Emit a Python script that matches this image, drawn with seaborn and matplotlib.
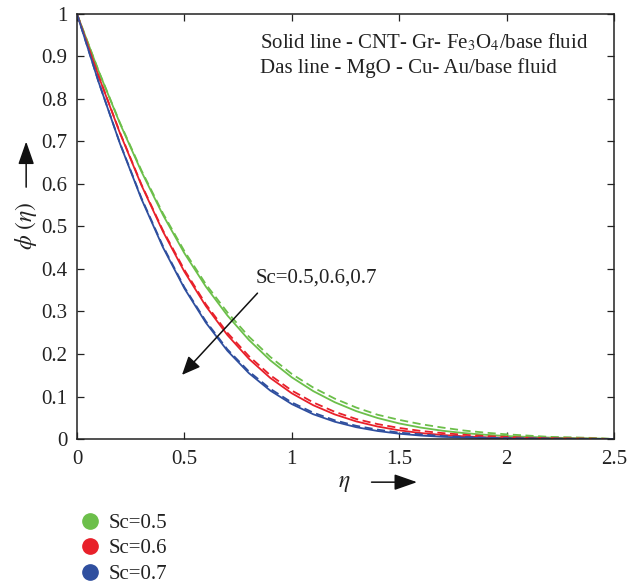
import matplotlib
matplotlib.use("Agg")
import matplotlib.pyplot as plt
import matplotlib.patches as mpatches
import seaborn as sns
import pandas as pd
from matplotlib.lines import Line2D

eta = [0.0, 0.1, 0.2, 0.3, 0.4, 0.5, 0.6, 0.7, 0.8, 0.9, 1.0, 1.1, 1.2,
       1.3, 1.4, 1.5, 1.6, 1.7, 1.8, 1.9, 2.0, 2.1, 2.2, 2.3, 2.4, 2.5]

# Solid line - CNT-Gr-Fe3O4/base fluid
sc05_solid = [1.0, 0.8663, 0.7423, 0.6291, 0.5273, 0.4371, 0.3584, 0.2907, 0.2332,
              0.1850, 0.1451, 0.1126, 0.0865, 0.0656, 0.0493, 0.0366, 0.0269, 0.0195,
              0.0140, 0.0100, 0.0070, 0.0049, 0.0034, 0.0023, 0.0015, 0.0]
sc06_solid = [1.0, 0.8544, 0.7195, 0.5971, 0.4883, 0.3936, 0.3126, 0.2447, 0.1888,
              0.1435, 0.1075, 0.0794, 0.0578, 0.0414, 0.0293, 0.0204, 0.0140, 0.0095,
              0.0063, 0.0041, 0.0027, 0.0017, 0.0011, 0.0007, 0.0004, 0.0]
sc07_solid = [1.0, 0.8407, 0.6949, 0.5647, 0.4511, 0.3543, 0.2736, 0.2077, 0.1550,
              0.1138, 0.0821, 0.0582, 0.0406, 0.0278, 0.0188, 0.0124, 0.0081, 0.0052,
              0.0033, 0.0020, 0.0012, 0.0007, 0.0004, 0.0002, 0.0001, 0.0]
# Dashed line - MgO-Cu-Au/base fluid
sc05_dash = [1.0, 0.867, 0.744, 0.632, 0.531, 0.442, 0.364, 0.298, 0.241, 0.193,
             0.153, 0.121, 0.095, 0.074, 0.057, 0.045, 0.035, 0.027, 0.020, 0.015,
             0.011, 0.008, 0.005, 0.004, 0.0025, 0.0]
sc06_dash = [1.0, 0.855, 0.721, 0.599, 0.491, 0.398, 0.317, 0.250, 0.195, 0.150,
             0.114, 0.086, 0.064, 0.047, 0.035, 0.026, 0.019, 0.014, 0.010, 0.007,
             0.005, 0.003, 0.002, 0.0015, 0.001, 0.0]
sc07_dash = [1.0, 0.841, 0.696, 0.567, 0.454, 0.357, 0.277, 0.211, 0.159, 0.118,
             0.086, 0.062, 0.044, 0.031, 0.022, 0.015, 0.011, 0.007, 0.005, 0.003,
             0.002, 0.0015, 0.001, 0.0005, 0.0003, 0.0]

sc_labels = ["Sc=0.5", "Sc=0.6", "Sc=0.7"]
colors = ["#6cbf4a", "#e8202a", "#2f4f9f"]
xticks = [0, 0.5, 1, 1.5, 2, 2.5]
xticklabels = ["0", "0.5", "1", "1.5", "2", "2.5"]
yticks = [0, 0.1, 0.2, 0.3, 0.4, 0.5, 0.6, 0.7, 0.8, 0.9, 1.0]
yticklabels = ["0", "0.1", "0.2", "0.3", "0.4", "0.5", "0.6", "0.7", "0.8", "0.9", "1"]

rows = []
for lab, s, d in zip(sc_labels, [sc05_solid, sc06_solid, sc07_solid],
                     [sc05_dash, sc06_dash, sc07_dash]):
    for e, v in zip(eta, s):
        rows.append({"eta": e, "phi": v, "Sc": lab, "kind": "solid"})
    for e, v in zip(eta, d):
        rows.append({"eta": e, "phi": v, "Sc": lab, "kind": "dash"})
df = pd.DataFrame(rows)

sns.set_style("ticks")
plt.rcParams["font.family"] = ["Liberation Serif", "DejaVu Serif"]
plt.rcParams["mathtext.fontset"] = "stix"

TXT = "#222222"
FS = 15

fig = plt.figure(figsize=(6.38, 5.88), dpi=100)
ax = fig.add_axes([0.1207, 0.2534, 0.8417, 0.7228])

pal = dict(zip(sc_labels, colors))
sns.lineplot(data=df[df.kind == "solid"], x="eta", y="phi", hue="Sc", palette=pal,
             ax=ax, legend=False, linewidth=1.3, estimator=None, sort=False)
sns.lineplot(data=df[df.kind == "dash"], x="eta", y="phi", hue="Sc", palette=pal,
             ax=ax, legend=False, linewidth=1.3, estimator=None, sort=False)
for ln in ax.lines[3:]:
    ln.set_dashes([4.5, 2.5])

ax.set_xlim(0, 2.5)
ax.set_ylim(0, 1)
ax.set_xticks(xticks)
ax.set_xticklabels(xticklabels)
ax.set_yticks(yticks)
ax.set_yticklabels(yticklabels)
ax.tick_params(direction="in", top=True, right=True, length=5, width=0.9,
               labelsize=FS, colors=TXT)
ax.tick_params(axis="x", pad=8)
ax.tick_params(axis="y", pad=7)
for sp in ax.spines.values():
    sp.set_linewidth(1.1)
    sp.set_color(TXT)
ax.set_xlabel("")
ax.set_ylabel("")

# annotation text
ax.text(0.341, 0.92, "Solid line - CNT- Gr- Fe$_\\mathrm{3}$O$_\\mathrm{4}$/base fluid",
        transform=ax.transAxes, fontsize=FS, va="baseline", color=TXT)
ax.text(0.341, 0.862, "Das line - MgO - Cu- Au/base fluid",
        transform=ax.transAxes, fontsize=FS, va="baseline", color=TXT)
ax.text(0.83, 0.367, "Sc=0.5,0.6,0.7", fontsize=FS, color=TXT)
ax.annotate("", xy=(0.48, 0.146), xytext=(0.849, 0.348),
            arrowprops=dict(arrowstyle="-|>,head_length=0.8,head_width=0.35",
                            color="#111111", lw=1.1, mutation_scale=14))

# axis labels with arrows
fig.text(0.54, 0.177, "$\\eta$", fontsize=17, ha="center", va="center", color=TXT)
fig.patches.append(mpatches.FancyArrowPatch(
    (0.578, 0.18), (0.658, 0.18), transform=fig.transFigure, mutation_scale=14,
    arrowstyle="-|>,head_length=1.0,head_width=0.35", color="#111111", lw=1.1))
fig.text(0.041, 0.616, "$\\phi\\ (\\eta)$", fontsize=17, ha="center", va="center",
         rotation=90, color=TXT)
fig.patches.append(mpatches.FancyArrowPatch(
    (0.041, 0.677), (0.041, 0.764), transform=fig.transFigure, mutation_scale=14,
    arrowstyle="-|>,head_length=1.0,head_width=0.35", color="#111111", lw=1.1))

handles = [Line2D([], [], marker="o", linestyle="none", markersize=11,
                  markerfacecolor=c, markeredgecolor=c) for c in colors]
fig.legend(handles, sc_labels, loc="upper left", bbox_to_anchor=(0.108, 0.141),
           frameon=False, fontsize=FS, handletextpad=0.3, labelspacing=0.28,
           borderaxespad=0, handlelength=1.2, labelcolor=TXT)

fig.savefig("out.png", dpi=100)
